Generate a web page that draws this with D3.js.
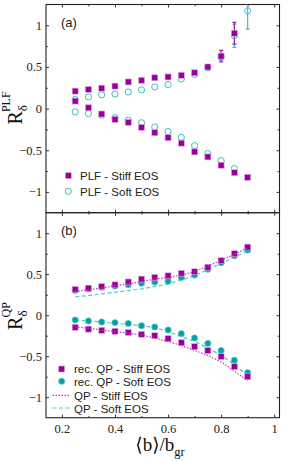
<!DOCTYPE html>
<html>
<head>
<meta charset="utf-8">
<script src="https://cdn.jsdelivr.net/npm/d3@7"></script>
<style>
  body { margin: 0; background: #fff; }
  svg { display: block; }
</style>
</head>
<body>
<div id="chart"></div>
<script>
const xVals = [0.25, 0.30, 0.35, 0.40, 0.45, 0.50, 0.55, 0.60, 0.65, 0.70, 0.75, 0.80, 0.85, 0.90];

// panel (a): PLF
const plfStiffUp  = [0.21, 0.23, 0.245, 0.27, 0.32, 0.34, 0.37, 0.38, 0.40, 0.43, 0.50, 0.63, 0.905, null];
const plfStiffLow = [0.09, 0.01, -0.065, -0.13, -0.165, -0.225, -0.29, -0.35, -0.415, -0.52, -0.58, -0.68, -0.77, -0.825];
const plfSoftUp   = [0.11, 0.14, 0.165, 0.175, 0.20, 0.225, 0.26, 0.29, 0.355, 0.41, 0.49, 0.62, 0.875, 1.175];
const plfSoftLow  = [-0.04, -0.06, -0.08, -0.11, -0.14, -0.17, -0.22, -0.275, -0.345, -0.445, -0.54, -0.625, -0.72, null];
const plfStiffErr = [0, 0, 0, 0, 0, 0, 0, 0, 0, 0, 0, 0.07, 0.13, 0];
const plfSoftErr  = [0, 0, 0, 0, 0, 0, 0, 0, 0, 0, 0, 0.04, 0.14, 0.22];

// panel (b): QP
const qpStiffUp   = [0.315, 0.33, 0.35, 0.37, 0.405, 0.44, 0.46, 0.48, 0.51, 0.53, 0.585, 0.665, 0.75, 0.83];
const qpStiffLow  = [-0.148, -0.17, -0.185, -0.196, -0.21, -0.233, -0.25, -0.286, -0.335, -0.384, -0.43, -0.505, -0.628, -0.75];
const qpSoftUp    = [0.30, 0.32, 0.34, 0.355, 0.37, 0.39, 0.405, 0.415, 0.46, 0.49, 0.56, 0.64, 0.725, 0.795];
const qpSoftLow   = [-0.058, -0.07, -0.083, -0.09, -0.10, -0.128, -0.144, -0.18, -0.225, -0.278, -0.343, -0.43, -0.55, -0.70];
const simStiffUp  = [0.29, 0.31, 0.33, 0.36, 0.38, 0.41, 0.44, 0.46, 0.49, 0.53, 0.60, 0.67, 0.74, 0.82];
const simStiffLow = [-0.14, -0.16, -0.18, -0.20, -0.22, -0.24, -0.28, -0.32, -0.37, -0.43, -0.49, -0.57, -0.68, -0.80];
const simSoftUp   = [0.225, 0.24, 0.26, 0.28, 0.30, 0.32, 0.35, 0.38, 0.43, 0.48, 0.56, 0.63, 0.71, 0.78];
const simSoftLow  = [-0.06, -0.07, -0.08, -0.10, -0.11, -0.13, -0.15, -0.20, -0.26, -0.32, -0.40, -0.49, -0.60, -0.74];

const xTicks = [0.2, 0.4, 0.6, 0.8, 1];
const xMinor = [0.3, 0.5, 0.7, 0.9];
const yTicks = [-1, -0.5, 0, 0.5, 1];
const yMinor = [-0.75, -0.25, 0.25, 0.75];

const purple = "#990099";
const purpleLine = "#c035c0";
const cyanOpen = "#3cc0c0";
const teal = "#00a3a3";
const cyanLine = "#4cc8c8";

const W = 296, H = 461;
const left = 46, right = 279.5;
const svg = d3.select("#chart").append("svg")
    .attr("width", W).attr("height", H)
    .attr("viewBox", `0 0 ${W} ${H}`);

const x = d3.scaleLinear().domain([0.14, 1.02]).range([left, right]);

function fmt(d) {
    return d === 0 ? "0" : (d < 0 ? "\u2212" + Math.abs(d) : String(d));
}

function drawFrame(y, top, bottom, showX) {
    const g = svg.append("g");
    g.append("g").attr("transform", `translate(${left},0)`)
        .call(d3.axisLeft(y).tickValues(yTicks).tickSize(-3).tickPadding(4).tickFormat(fmt));
    g.append("g").attr("transform", `translate(${left},0)`)
        .call(d3.axisLeft(y).tickValues(yMinor).tickSize(-1.8).tickFormat(""));
    g.append("g").attr("transform", `translate(${right},0)`)
        .call(d3.axisRight(y).tickValues(yTicks).tickSize(-3).tickFormat(""));
    g.append("g").attr("transform", `translate(${right},0)`)
        .call(d3.axisRight(y).tickValues(yMinor).tickSize(-1.8).tickFormat(""));
    g.append("g").attr("transform", `translate(0,${top})`)
        .call(d3.axisTop(x).tickValues(xTicks).tickSize(-3).tickFormat(""));
    g.append("g").attr("transform", `translate(0,${top})`)
        .call(d3.axisTop(x).tickValues(xMinor).tickSize(-1.8).tickFormat(""));
    g.append("g").attr("transform", `translate(0,${bottom})`)
        .call(d3.axisBottom(x).tickValues(xTicks).tickSize(-3).tickPadding(6)
            .tickFormat(showX ? (d => String(d)) : ""));
    g.append("g").attr("transform", `translate(0,${bottom})`)
        .call(d3.axisBottom(x).tickValues(xMinor).tickSize(-1.8).tickFormat(""));
    g.selectAll(".domain").remove();
    g.selectAll(".tick line").attr("stroke", "#333");
    g.selectAll("text")
        .style("font-family", "'Liberation Serif', 'DejaVu Serif', serif")
        .style("font-size", "12.5px")
        .attr("fill", "#222");
    g.append("rect")
        .attr("x", left).attr("y", top)
        .attr("width", right - left).attr("height", bottom - top)
        .attr("fill", "none").attr("stroke", "#222").attr("stroke-width", 1.1);
    return g;
}

function pts(vals) {
    return xVals.map((xv, i) => ({ x: xv, y: vals[i] })).filter(d => d.y !== null);
}

function squares(g, y, vals) {
    g.selectAll(null).data(pts(vals)).join("rect")
        .attr("x", d => x(d.x) - 3).attr("y", d => y(d.y) - 3)
        .attr("width", 6).attr("height", 6)
        .attr("fill", purple).attr("stroke", "#e2a8e2").attr("stroke-width", 0.6);
}

function circles(g, y, vals, filled) {
    g.selectAll(null).data(pts(vals)).join("circle")
        .attr("cx", d => x(d.x)).attr("cy", d => y(d.y))
        .attr("r", filled ? 3.2 : 3.1)
        .attr("fill", filled ? teal : "none")
        .attr("stroke", filled ? "#8fd6d6" : cyanOpen)
        .attr("stroke-width", filled ? 0.6 : 1);
}

function errBars(g, y, vals, errs, color) {
    const data = xVals.map((xv, i) => ({ x: xv, y: vals[i], e: errs[i] }))
        .filter(d => d.y !== null && d.e > 0);
    data.forEach(d => {
        g.append("line").attr("x1", x(d.x)).attr("x2", x(d.x))
            .attr("y1", y(d.y - d.e)).attr("y2", y(d.y + d.e))
            .attr("stroke", color).attr("stroke-width", 1.2);
        [d.y - d.e, d.y + d.e].forEach(v => {
            g.append("line").attr("x1", x(d.x) - 2).attr("x2", x(d.x) + 2)
                .attr("y1", y(v)).attr("y2", y(v))
                .attr("stroke", color).attr("stroke-width", 1.2);
        });
    });
}

function simLine(g, y, vals, color, dash) {
    g.append("path").datum(pts(vals))
        .attr("d", d3.line().x(d => x(d.x)).y(d => y(d.y)))
        .attr("fill", "none").attr("stroke", color)
        .attr("stroke-width", 1.2).attr("stroke-dasharray", dash);
}

function legendText(g, tx, ty, label) {
    g.append("text").attr("x", tx).attr("y", ty).attr("dy", "0.35em")
        .style("font-family", "'Liberation Sans', Arial, sans-serif")
        .style("font-size", "11.5px").attr("fill", "#222").text(label);
}

function yTitle(cx, cy, sup) {
    const t = svg.append("text")
        .attr("transform", `translate(${cx},${cy}) rotate(-90)`)
        .attr("text-anchor", "middle")
        .style("font-family", "'Liberation Serif', 'DejaVu Serif', serif")
        .attr("fill", "#111");
    t.append("tspan").style("font-size", "20px").text("R");
    t.append("tspan").style("font-size", "13px").attr("dy", 5).text("\u03b4");
    t.append("tspan").style("font-size", "12px").attr("dx", -7).attr("dy", -17).text(sup);
}

function panelLabel(g, lbl, top) {
    g.append("text").attr("x", 61).attr("y", top + 22)
        .style("font-family", "'Liberation Sans', Arial, sans-serif")
        .style("font-size", "13px").attr("fill", "#222").text(lbl);
}

// ----- panel (a)
const topA = 4.5, botA = 212.7;
const yA = d3.scaleLinear().domain([-1.25, 1.25]).range([botA, topA]);
drawFrame(yA, topA, botA, false);
svg.append("clipPath").attr("id", "clipA").append("rect")
    .attr("x", left).attr("y", topA).attr("width", right - left).attr("height", botA - topA);
const pA = svg.append("g").attr("clip-path", "url(#clipA)");
errBars(pA, yA, plfSoftUp, plfSoftErr, cyanOpen);
errBars(pA, yA, plfStiffUp, plfStiffErr, "#a020a0");
circles(pA, yA, plfSoftUp, false);
circles(pA, yA, plfSoftLow, false);
squares(pA, yA, plfStiffUp);
squares(pA, yA, plfStiffLow);
panelLabel(svg, "(a)", topA);
svg.append("rect").attr("x", 65.3).attr("y", 172.7).attr("width", 6).attr("height", 6)
    .attr("fill", purple).attr("stroke", "#e2a8e2").attr("stroke-width", 0.6);
svg.append("circle").attr("cx", 68.3).attr("cy", 191.3).attr("r", 3.1)
    .attr("fill", "none").attr("stroke", cyanOpen).attr("stroke-width", 1);
legendText(svg, 80, 176, "PLF - Stiff EOS");
legendText(svg, 80, 191.5, "PLF - Soft EOS");
yTitle(22, 108, "PLF");

// ----- panel (b)
const topB = 212.7, botB = 417.7;
const yB = d3.scaleLinear().domain([-1.25, 1.25]).range([botB, topB]);
drawFrame(yB, topB, botB, true);
const pB = svg.append("g");
simLine(pB, yB, simSoftUp, cyanLine, "4,2.5");
simLine(pB, yB, simSoftLow, cyanLine, "4,2.5");
circles(pB, yB, qpSoftUp, true);
circles(pB, yB, qpSoftLow, true);
squares(pB, yB, qpStiffUp);
squares(pB, yB, qpStiffLow);
simLine(pB, yB, simStiffUp, purpleLine, "1.5,1.5");
simLine(pB, yB, simStiffLow, purpleLine, "1.5,1.5");
panelLabel(svg, "(b)", topB);
svg.append("rect").attr("x", 58.7).attr("y", 366).attr("width", 6).attr("height", 6)
    .attr("fill", purple).attr("stroke", "#e2a8e2").attr("stroke-width", 0.6);
svg.append("circle").attr("cx", 61.7).attr("cy", 381.3).attr("r", 3.2)
    .attr("fill", teal).attr("stroke", "#8fd6d6").attr("stroke-width", 0.6);
svg.append("line").attr("x1", 52.5).attr("x2", 70).attr("y1", 395.3).attr("y2", 395.3)
    .attr("stroke", purpleLine).attr("stroke-width", 1.2).attr("stroke-dasharray", "1.5,1.5");
svg.append("line").attr("x1", 52.5).attr("x2", 70).attr("y1", 408).attr("y2", 408)
    .attr("stroke", cyanLine).attr("stroke-width", 1.2).attr("stroke-dasharray", "4,2.5");
legendText(svg, 74, 369, "rec. QP - Stiff EOS");
legendText(svg, 74, 381.5, "rec. QP - Soft EOS");
legendText(svg, 74, 395.5, "QP - Stiff EOS");
legendText(svg, 74, 408.5, "QP - Soft EOS");
yTitle(22, 316, "QP");

// x title
const xt = svg.append("text").attr("x", 160).attr("y", 451).attr("text-anchor", "middle")
    .style("font-family", "'Liberation Serif', 'DejaVu Serif', serif").attr("fill", "#111");
xt.append("tspan").style("font-size", "19px").text("\u27e8b\u27e9/b");
xt.append("tspan").style("font-size", "12.5px").attr("dy", 5).text("gr");
</script>
</body>
</html>
